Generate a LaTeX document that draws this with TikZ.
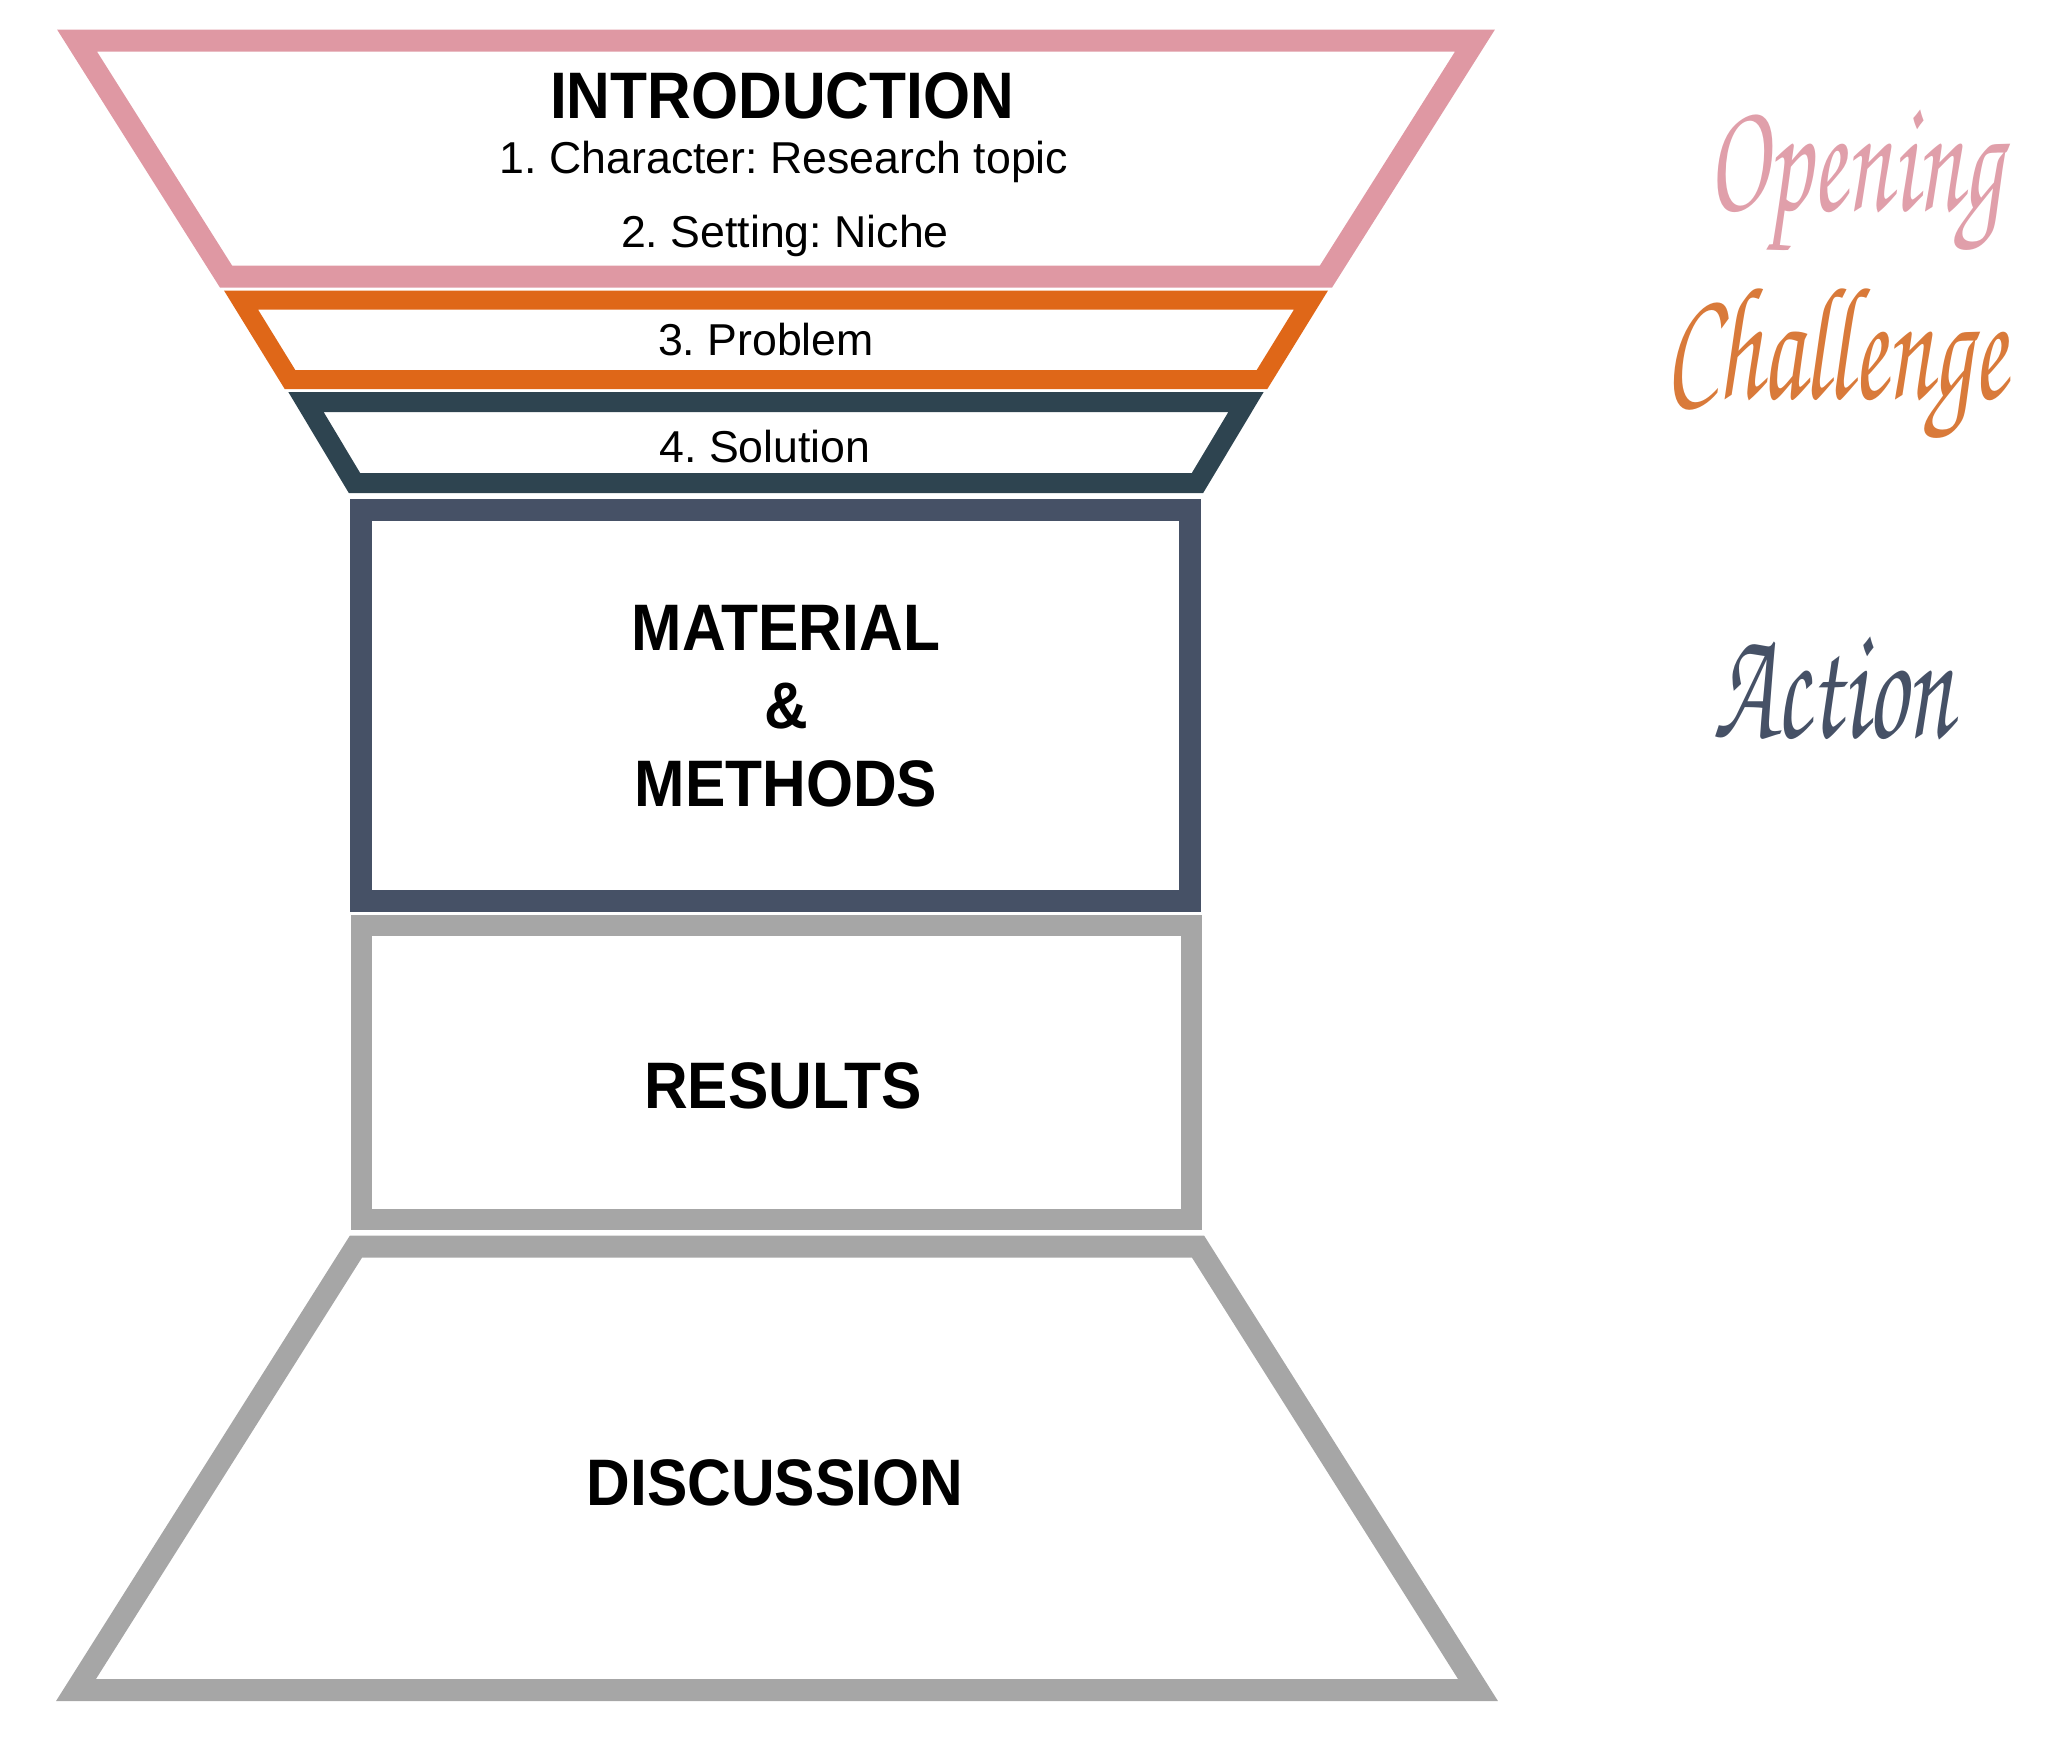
\documentclass[tikz,border=0pt]{standalone}
\usepackage{fontspec}
\setmainfont{Liberation Sans}
\newfontfamily\headfont[FakeStretch=0.92]{Liberation Sans}
\newfontfamily\handfont[FakeStretch=0.62]{TeX Gyre Chorus}
\frenchspacing
\definecolor{introPink}{HTML}{DF98A3}
\definecolor{probOrange}{HTML}{DF6718}
\definecolor{solSlate}{HTML}{2E4450}
\definecolor{methSlate}{HTML}{465166}
\definecolor{resGray}{HTML}{A6A6A6}
\definecolor{openPink}{HTML}{E09FAA}
\definecolor{challOrange}{HTML}{D97A3A}
\tikzset{
  frame/.style={line width=2.2mm, line join=miter},
  head/.style={font=\headfont\bfseries\fontsize{18.7}{22.2}\selectfont, align=center, inner sep=0pt},
  item/.style={font=\fontsize{12.7}{15}\selectfont, inner sep=0pt},
  hand/.style={font=\handfont\fontsize{46}{50}\selectfont, inner sep=0pt, anchor=base},
}

\begin{document}
\begin{tikzpicture}[x=0.01cm, y=-0.01cm]
  \useasboundingbox (0,0) rectangle (2048,1741);

  % the funnel
  \draw[frame, introPink] (77,40.5) -- (1475,40.5) -- (1326,276.5) -- (226,276.5) -- cycle;
  \draw[frame, probOrange, line width=1.9mm] (241,300) -- (1311,300) -- (1262,379.5) -- (290,379.5) -- cycle;
  \draw[frame, solSlate, line width=2mm] (306,402) -- (1246,402) -- (1197.5,483) -- (354.5,483) -- cycle;
  \draw[frame, methSlate] (361,509.5) rectangle (1189.5,900.5);
  \draw[frame, resGray, line width=2.1mm] (361.5,925) rectangle (1191,1219);
  \draw[frame, resGray] (356,1246.5) -- (1198,1246.5) -- (1478,1690) -- (76,1690) -- cycle;

  % section texts
  \node[head, anchor=base] (intro) at (782,118) {INTRODUCTION};
  \node[item, anchor=base] (character) at (784,173) {1. Character: Research topic};
  \node[item, anchor=base] (setting) at (785,247) {2. Setting: Niche};
  \node[item, anchor=base] (problem) at (766,355) {3. Problem};
  \node[item, anchor=base] (solution) at (765,462) {4. Solution};
  \node[head] (methods) at (786,706) {MATERIAL\\\&\\METHODS};
  \node[head, anchor=base] (results) at (783,1108.6) {RESULTS};
  \node[head, anchor=base] (discussion) at (775,1505) {DISCUSSION};

  % story labels
  \node[hand, text=openPink] (opening) at (1855,210) {Opening};
  \node[hand, text=challOrange] (challenge) at (1836,398) {Challenge};
  \node[hand, text=methSlate] (action) at (1833,737) {Action};
\end{tikzpicture}
\end{document}
